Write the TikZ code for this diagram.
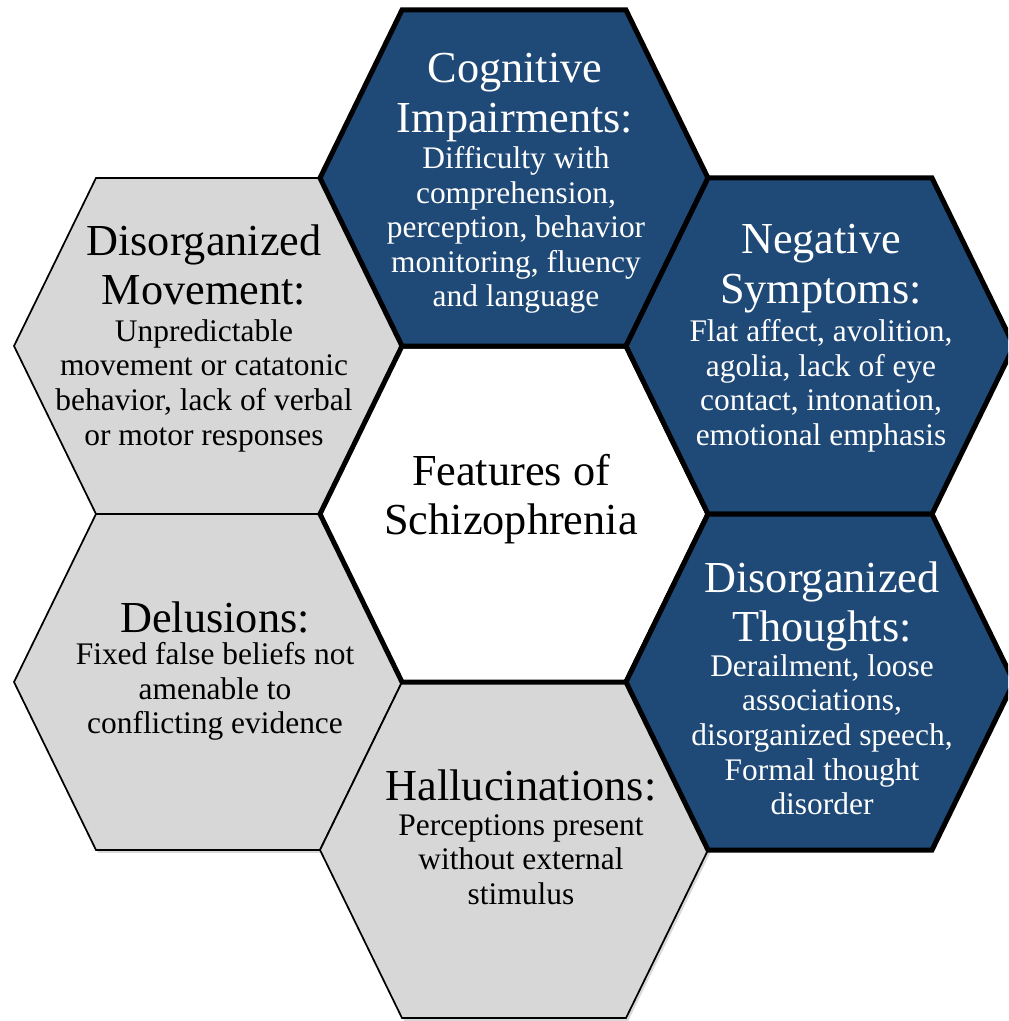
\documentclass[tikz,border=0pt]{standalone}
\usepackage{fontspec}
\setmainfont{Liberation Serif}
\usetikzlibrary{calc, shadows}

\definecolor{cellblue}{RGB}{31,73,118}
\definecolor{cellgray}{RGB}{215,215,215}

% one honeycomb cell around a centre coordinate
\newcommand{\hexcell}[2]{%
  \draw[#1] ($(#2)+(-194,0)$) -- ++(82,-168) -- ++(224,0) -- ++(82,168)
    -- ++(-82,168) -- ++(-224,0) -- cycle;
}

\tikzset{
  blue cell/.style={fill=cellblue, draw=black, line width=1.75pt, line join=miter},
  gray cell/.style={fill=cellgray, draw=black, line width=0.6pt,
    drop shadow={shadow xshift=0.8pt, shadow yshift=-1pt, opacity=0.3}},
  core cell/.style={fill=white, draw=black, line width=1.75pt},
  head/.style={font=\fontsize{15.5}{17.2}\selectfont, align=center, inner sep=0pt, anchor=north},
  desc/.style={font=\fontsize{11}{12.1}\selectfont, align=center, inner sep=0pt, anchor=north},
  on blue/.style={text=white}
}

\begin{document}
\begin{tikzpicture}[x=0.35pt, y=-0.35pt]

\clip (0,0) rectangle (1008,1021);

% cell centres
\coordinate (mid) at (514,514);
\coordinate (cog) at (514,178);
\coordinate (neg) at (820,346);
\coordinate (thg) at (820,682);
\coordinate (hal) at (514,850);
\coordinate (del) at (208,682);
\coordinate (mov) at (208,346);

% gray cells first, the thick ones on top
\hexcell{gray cell}{mov}
\hexcell{gray cell}{del}
\hexcell{gray cell}{hal}
\hexcell{core cell}{mid}
\hexcell{blue cell}{cog}
\hexcell{blue cell}{neg}
\hexcell{blue cell}{thg}

% centre
\node[head] (mid-head) at (511,454) {Features of\\Schizophrenia};

% blue cells
\node[head, on blue] (cog-head) at (515,53) {Cognitive\\Impairments:};
\node[desc, on blue] (cog-desc) at (516,146) {Difficulty with\\comprehension,\\perception, behavior\\monitoring, fluency\\and language};

\node[head, on blue] (neg-head) at (821,224) {Negative\\Symptoms:};
\node[desc, on blue] (neg-desc) at (821,319) {Flat affect, avolition,\\agolia, lack of eye\\contact, intonation,\\emotional emphasis};

\node[head, on blue] (thg-head) at (822,561) {Disorganized\\Thoughts:};
\node[desc, on blue] (thg-desc) at (822,654) {Derailment, loose\\associations,\\disorganized speech,\\Formal thought\\disorder};

% gray cells
\node[head] (mov-head) at (204,224) {Disorganized\\Movement:};
\node[desc] (mov-desc) at (204,319) {Unpredictable\\movement or catatonic\\behavior, lack of verbal\\or motor responses};

\node[head] (del-head) at (215,601) {Delusions:};
\node[desc] (del-desc) at (215,642) {Fixed false beliefs not\\amenable to\\conflicting evidence};

\node[head] (hal-head) at (521,769) {Hallucinations:};
\node[desc] (hal-desc) at (521,814) {Perceptions present\\without external\\stimulus};

\end{tikzpicture}
\end{document}
